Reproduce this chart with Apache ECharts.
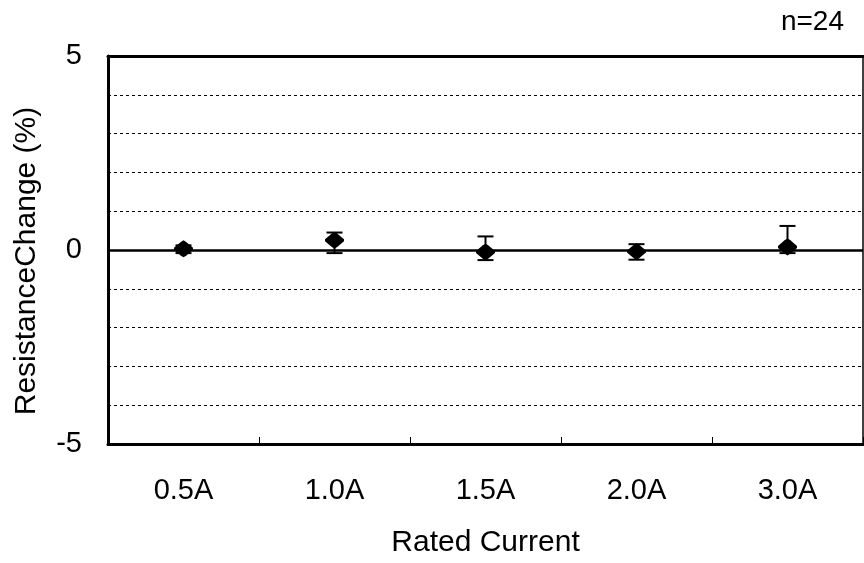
<!DOCTYPE html>
<html>
<head>
<meta charset="utf-8">
<script src="https://cdn.jsdelivr.net/npm/echarts@6/dist/echarts.min.js"></script>
<style>
html,body{margin:0;padding:0;background:#fff;}
#c{width:864px;height:563px;}
</style>
</head>
<body>
<div id="c"></div>
<script>
var categories = ['0.5A', '1.0A', '1.5A', '2.0A', '3.0A'];
var means = [0.03, 0.25, -0.05, -0.04, 0.08];
var upper = [0.12, 0.45, 0.35, 0.15, 0.62];
var lower = [-0.08, -0.08, -0.26, -0.25, -0.08];
var yTickLabels = [-5, 0, 5];
var sampleNote = 'n=24';
var yAxisTitle = 'ResistanceChange (%)';

var FONT = "'Liberation Sans', Arial, sans-serif";
var errData = categories.map(function (c, i) { return [i, lower[i], upper[i]]; });

var chart = echarts.init(document.getElementById('c'));
chart.setOption({
  animation: false,
  backgroundColor: '#fff',
  grid: { left: 108, right: 1, top: 56, bottom: 115 },
  graphic: [{
    type: 'text', x: 844, y: 22,
    style: { text: sampleNote, font: '28px ' + FONT, fill: '#000', align: 'right', verticalAlign: 'middle' }
  }, {
    type: 'text', x: 27, y: 261, rotation: Math.PI / 2,
    style: { text: yAxisTitle, font: '30px ' + FONT, fill: '#000', align: 'center', verticalAlign: 'middle' }
  }],
  xAxis: [{
    type: 'category',
    data: categories,
    boundaryGap: true,
    axisLine: { show: true, onZero: false, lineStyle: { color: '#000', width: 3 } },
    axisTick: { show: true, inside: true, length: 7, lineStyle: { color: '#000', width: 1 } },
    axisLabel: { color: '#000', fontSize: 29, fontFamily: FONT, margin: 32 },
    splitLine: { show: false },
    name: 'Rated Current',
    nameLocation: 'middle',
    nameGap: 84,
    nameTextStyle: { color: '#000', fontSize: 30, fontFamily: FONT }
  }, {
    type: 'category',
    data: categories,
    position: 'top',
    axisLine: { show: true, onZero: false, lineStyle: { color: '#000', width: 3 } },
    axisTick: { show: false },
    axisLabel: { show: false },
    splitLine: { show: false }
  }],
  yAxis: [{
    type: 'value',
    min: -5, max: 5, interval: 1,
    axisLine: { show: true, onZero: false, lineStyle: { color: '#000', width: 3 } },
    axisTick: { show: false },
    axisLabel: {
      color: '#000', fontSize: 29, fontFamily: FONT, margin: 26,
      formatter: function (v) { return yTickLabels.indexOf(v) >= 0 ? String(v) : ''; }
    },
    splitLine: { show: true, lineStyle: { color: '#000', width: 1, type: [3, 3] } }
  }, {
    type: 'value',
    min: -5, max: 5, interval: 1,
    position: 'right',
    axisLine: { show: true, onZero: false, lineStyle: { color: '#000', width: 1.5 } },
    axisTick: { show: false },
    axisLabel: { show: false },
    splitLine: { show: false }
  }],
  series: [{
    type: 'custom',
    z: 3,
    data: errData,
    renderItem: function (params, api) {
      var x = api.value(0);
      var lo = api.coord([x, api.value(1)]);
      var hi = api.coord([x, api.value(2)]);
      var hw = 8;
      var st = { stroke: '#000', lineWidth: 2 };
      return {
        type: 'group',
        children: [
          { type: 'line', shape: { x1: hi[0], y1: hi[1], x2: lo[0], y2: lo[1] }, style: st },
          { type: 'line', shape: { x1: hi[0] - hw, y1: hi[1], x2: hi[0] + hw, y2: hi[1] }, style: st },
          { type: 'line', shape: { x1: lo[0] - hw, y1: lo[1], x2: lo[0] + hw, y2: lo[1] }, style: st }
        ]
      };
    }
  }, {
    type: 'scatter',
    z: 4,
    data: means,
    symbol: 'path://M50,0 L64,10 L100,44 L100,56 L64,90 L50,100 L36,90 L0,56 L0,44 L36,10 Z',
    symbolSize: [19, 17],
    itemStyle: { color: '#000', opacity: 1 },
    markLine: {
      silent: true,
      symbol: 'none',
      label: { show: false },
      lineStyle: { color: '#000', width: 2.5, type: 'solid' },
      data: [{ yAxis: 0 }]
    }
  }]
});
</script>
</body>
</html>
